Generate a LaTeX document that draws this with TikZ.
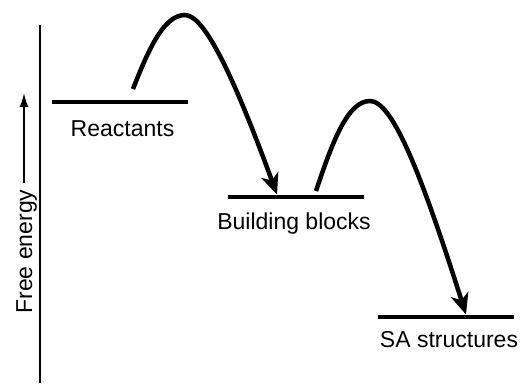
\documentclass[tikz,border=0pt]{standalone}
\usepackage{fontspec}
\setmainfont{Liberation Sans}
\usetikzlibrary{arrows.meta, calc, positioning}
\definecolor{Ink}{HTML}{000000}
\tikzset{
  lvl/.style={
    rectangle, draw=none, fill=Ink,
    inner sep=0pt, minimum width=136pt, minimum height=4.5pt,
  },
  lbl/.style={
    font=\fontsize{23}{27}\selectfont, text=Ink,
    inner sep=0pt, anchor=base,
  },
  barr/.style={
    -{Stealth[length=21pt,width=18pt,inset=6pt]},
    line width=4.5pt, color=Ink,
  },
  axis/.style={line width=2.2pt, color=Ink},
  up/.style={
    -{Latex[length=14pt,width=9pt]},
    line width=1.6pt, color=Ink,
  },
}
\begin{document}
\begin{tikzpicture}[x=1pt,y=-1pt]
    \useasboundingbox (0,0) rectangle (521,383);
    % energy axis
    \coordinate (ax0) at (40,25);
    \coordinate (ax1) at (40,383);
    \draw[axis] (ax0)--(ax1);
    \coordinate (fe0) at (24,183);
    \coordinate (fe1) at (24,93);
    \draw[up] (fe0)--(fe1);
    \node[lbl, rotate=90] (fe) at (32,251.5) {Free energy};
    % levels
    \node[lvl] (react) at (120,102) {};
    \node[lvl] (bb)    at (296,197) {};
    \node[lvl] (sa)    at (445.5,317) {};
    \node[lbl] (reactl) at (122.5,136) {Reactants};
    \node[lbl] (bbl)    at (294,229)   {Building blocks};
    \node[lbl] (sal)    at (449,347)   {SA structures};
    % barriers
    \coordinate (s1) at (133,89);  \coordinate (p1) at (185,15);
    \coordinate (s2) at (316,191); \coordinate (p2) at (370,101);
    \draw[barr] (s1) .. controls (150,45) and (165,15) .. (p1)
                .. controls (205,15) and (235,80) .. ($(bb.north)+(-19,0)$);
    \draw[barr] (s2) .. controls (333,140) and (348,101) .. (p2)
                .. controls (392,101) and (420,170) .. ($(sa.north)+(20.5,0)$);
\end{tikzpicture}
\end{document}
